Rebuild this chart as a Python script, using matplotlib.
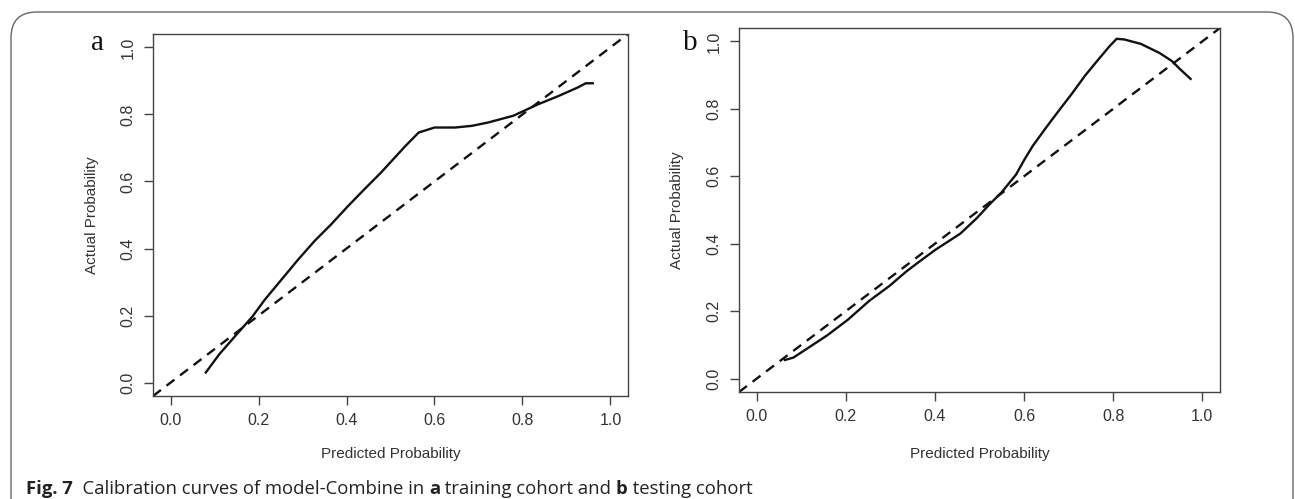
import matplotlib
matplotlib.use("Agg")
import numpy as np
import matplotlib.pyplot as plt
from matplotlib.patches import FancyBboxPatch

# calibration curve, training cohort (panel a)
train_pred = [0.080, 0.111, 0.153, 0.186, 0.214, 0.252, 0.290, 0.327, 0.365, 0.403,
              0.440, 0.478, 0.506, 0.534, 0.564, 0.581, 0.600, 0.647, 0.685, 0.722,
              0.779, 0.807, 0.835, 0.882, 0.925, 0.944, 0.960]
train_act = [0.030, 0.085, 0.148, 0.197, 0.247, 0.307, 0.367, 0.422, 0.472, 0.526,
             0.576, 0.626, 0.666, 0.706, 0.746, 0.753, 0.761, 0.761, 0.766, 0.776,
             0.796, 0.813, 0.830, 0.855, 0.880, 0.893, 0.893]

# calibration curve, testing cohort (panel b)
test_pred = [0.063, 0.082, 0.112, 0.158, 0.205, 0.252, 0.298, 0.336, 0.363, 0.401,
             0.457, 0.494, 0.522, 0.550, 0.582, 0.601, 0.620, 0.652, 0.680, 0.708,
             0.736, 0.764, 0.792, 0.808, 0.825, 0.862, 0.904, 0.932, 0.951, 0.974]
test_act = [0.055, 0.062, 0.088, 0.128, 0.175, 0.230, 0.275, 0.318, 0.345, 0.382,
            0.430, 0.476, 0.516, 0.553, 0.605, 0.650, 0.691, 0.749, 0.798, 0.846,
            0.897, 0.942, 0.986, 1.008, 1.006, 0.993, 0.966, 0.942, 0.917, 0.889]

ticks = [0.0, 0.2, 0.4, 0.6, 0.8, 1.0]
tick_labels = ["0.0", "0.2", "0.4", "0.6", "0.8", "1.0"]
panel_letters = ["a", "b"]
xlabel = "Predicted Probability"
ylabel = "Actual Probability"

W, H = 1295, 499
fig = plt.figure(figsize=(W / 100, H / 100), dpi=100)
fig.patch.set_facecolor("white")

# axes boxes in pixels: left, top, right, bottom
boxes = [(153, 34, 628, 396), (739, 28, 1220, 392)]
curves = [(train_pred, train_act), (test_pred, test_act)]
letter_pos = [(97, 50), (690, 50)]
ylab_x = [92, 677]

sans = "Liberation Sans"
for (l, t, r, b), (px, py), letter, (lx, ly), yx in zip(boxes, curves, panel_letters,
                                                        letter_pos, ylab_x):
    ax = fig.add_axes([l / W, 1 - b / H, (r - l) / W, (b - t) / H])
    lim = (-0.04, 1.04)
    ax.plot(lim, lim, color="#111111", lw=1.7, ls=(0, (4.2, 3.0)))
    ax.plot(px, py, color="#111111", lw=1.7)
    ax.set_xlim(lim)
    ax.set_ylim(lim)
    ax.set_xticks(ticks)
    ax.set_xticklabels(tick_labels, fontsize=11.5, family=sans, color="#333333")
    ax.set_yticks(ticks)
    ax.set_yticklabels(tick_labels, fontsize=11.5, family=sans, color="#333333",
                       rotation=90, va="center")
    ax.tick_params(length=6.5, width=1, color="#444444", pad=6)
    for s in ax.spines.values():
        s.set_color("#444444")
        s.set_linewidth(1.0)
    ax.set_xlabel(xlabel, fontsize=11, family=sans, color="#333333")
    ax.set_ylabel(ylabel, fontsize=11, family=sans, color="#333333")
    ax.xaxis.set_label_coords(0.5, -(454 - b) / (b - t), transform=ax.transAxes)
    ax.yaxis.set_label_coords(-(l - yx) / (r - l), 0.5)
    ax.xaxis.label.set_va("center")
    ax.yaxis.label.set_va("center")
    fig.text(lx / W, 1 - ly / H, letter, family="Liberation Serif", fontsize=21,
             ha="center", va="baseline", color="#111111")

# rounded frame around the figure (bottom runs off the image)
frame = FancyBboxPatch((11 / W, -0.2), (1293 - 11) / W, 1.2 - 12 / H,
                       boxstyle="round,pad=0,rounding_size=0.02",
                       transform=fig.transFigure, fill=False, edgecolor="#666666",
                       lw=1.0, mutation_aspect=W / H, clip_on=False)
fig.patches.append(frame)

# caption with bold fragments, laid out piece by piece
pieces = [("Fig. 7", "bold"), ("  Calibration curves of model-Combine in ", "normal"),
          ("a", "bold"), (" training cohort and ", "normal"), ("b", "bold"),
          (" testing cohort", "normal")]
cap_font = ["Open Sans", "DejaVu Sans"]
renderer = fig.canvas.get_renderer()


def caption_width(size):
    total = 0
    for txt, wt in pieces:
        tt = fig.text(0, 0, txt, fontsize=size, family=cap_font, weight=wt)
        total += tt.get_window_extent(renderer).width
        tt.remove()
    return total


size = 14.0
size *= 728 / caption_width(size)
x = 26
for txt, wt in pieces:
    tt = fig.text(x / W, 1 - 494 / H, txt, fontsize=size, family=cap_font, weight=wt,
                  ha="left", va="baseline", color="#222222")
    x += tt.get_window_extent(renderer).width

fig.savefig("out.png", dpi=100)
